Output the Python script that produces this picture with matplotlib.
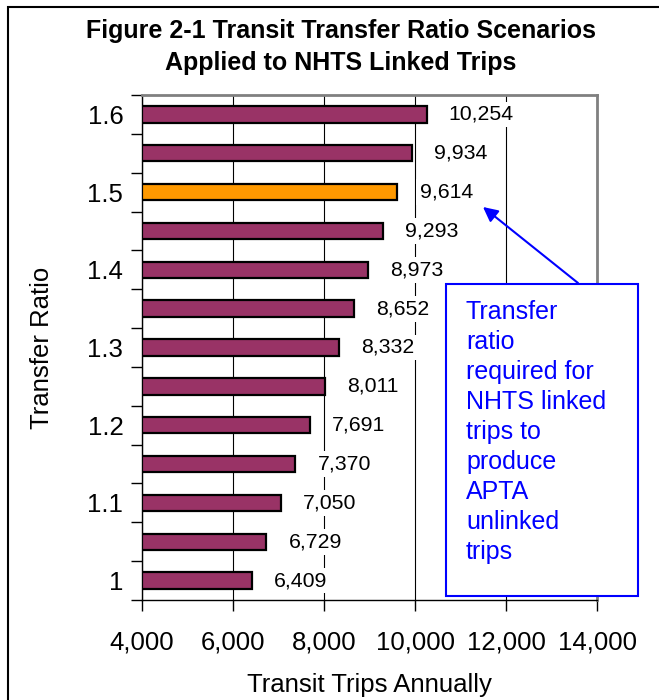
import numpy as np
import matplotlib
matplotlib.use('Agg')
import matplotlib.pyplot as plt
from matplotlib.patches import Rectangle

plt.rcParams['font.family'] = ['Liberation Sans', 'DejaVu Sans']

# data
ratios = [1.00, 1.05, 1.10, 1.15, 1.20, 1.25, 1.30, 1.35, 1.40, 1.45, 1.50, 1.55, 1.60]
trips = [6409, 6729, 7050, 7370, 7691, 8011, 8332, 8652, 8973, 9293, 9614, 9934, 10254]
highlight_ratio = 1.50
ratio_labels = ['1', '1.1', '1.2', '1.3', '1.4', '1.5', '1.6']
x_ticks = [4000, 6000, 8000, 10000, 12000, 14000]
note = 'Transfer\nratio\nrequired for\nNHTS linked\ntrips to\nproduce\nAPTA\nunlinked\ntrips'

W, H = 659, 700


def fx(px):
    return px / W


def fy(py):
    return 1 - py / H


fig = plt.figure(figsize=(W / 100, H / 100), dpi=100)
fig.patch.set_facecolor('white')
ax = fig.add_axes([fx(142), fy(600), fx(597) - fx(142), fy(95) - fy(600)])

y = np.arange(len(ratios))
colors = ['#FF9900' if abs(r - highlight_ratio) < 1e-9 else '#993366' for r in ratios]
x_min = x_ticks[0]
ax.barh(y, [t - x_min for t in trips], left=x_min, height=0.42,
        color=colors, edgecolor='black', linewidth=1.6, zorder=3)

for yi, t in zip(y, trips):
    ax.annotate(f'{t:,}', xy=(t, yi), xytext=(16, 0), textcoords='offset points',
                ha='left', va='center', fontsize=15.3, zorder=4,
                bbox=dict(facecolor='white', edgecolor='none', pad=2.5))

ax.set_xlim(x_min, x_ticks[-1])
ax.set_ylim(-0.5, len(ratios) - 0.5)
ax.set_xticks(x_ticks)
ax.set_xticklabels([f'{v:,}' for v in x_ticks])
ax.xaxis.grid(True, color='black', linewidth=0.8, zorder=1)
ax.set_axisbelow(True)

ax.set_yticks(np.arange(-0.5, len(ratios), 1))
ax.set_yticklabels([])
ax.set_yticks(np.arange(0, len(ratios), 2), minor=True)
ax.set_yticklabels(ratio_labels, minor=True)
ax.tick_params(axis='y', which='major', direction='out', length=8, width=1, color='black')
ax.tick_params(axis='y', which='minor', length=0, pad=13.5, labelsize=18.5)
ax.tick_params(axis='x', direction='out', length=8, width=1, pad=14, labelsize=18.5)

for s in ['top', 'right']:
    ax.spines[s].set_color('#808080')
    ax.spines[s].set_linewidth(2)
for s in ['left', 'bottom']:
    ax.spines[s].set_color('black')
    ax.spines[s].set_linewidth(1)

ax.set_xlabel('Transit Trips Annually', fontsize=18.5, labelpad=13)
ax.set_ylabel('Transfer Ratio', fontsize=18.5, va='center')
ax.yaxis.set_label_coords((42 - 142) / 455, 0.5)

fig.text(fx(341), fy(31), 'Figure 2-1 Transit Transfer Ratio Scenarios',
         ha='center', va='center', fontsize=18, fontweight='bold')
fig.text(fx(341), fy(63), 'Applied to NHTS Linked Trips',
         ha='center', va='center', fontsize=18, fontweight='bold')

# callout box with arrow
ax.annotate('', xy=(fx(483), fy(207)), xycoords='figure fraction',
            xytext=(fx(578), fy(283)), textcoords='figure fraction',
            arrowprops=dict(arrowstyle='-|>', color='#0000FF', lw=1.5,
                            mutation_scale=22, shrinkA=0, shrinkB=0),
            zorder=5)
fig.patches.append(Rectangle((fx(446), fy(596)), fx(638) - fx(446), fy(284) - fy(596),
                             transform=fig.transFigure, facecolor='white',
                             edgecolor='#0000FF', linewidth=1.5, zorder=6))
fig.text(fx(466), fy(432), note, ha='left', va='center', fontsize=18,
         color='#0000FF', linespacing=1.32, zorder=7)

# outer chart border (only left and top edges are visible)
fig.patches.append(Rectangle((fx(8), -0.1), 1.2, fy(7) + 0.1,
                             transform=fig.transFigure, facecolor='none',
                             edgecolor='black', linewidth=1.5, zorder=8))

fig.savefig('out.png', dpi=100)
